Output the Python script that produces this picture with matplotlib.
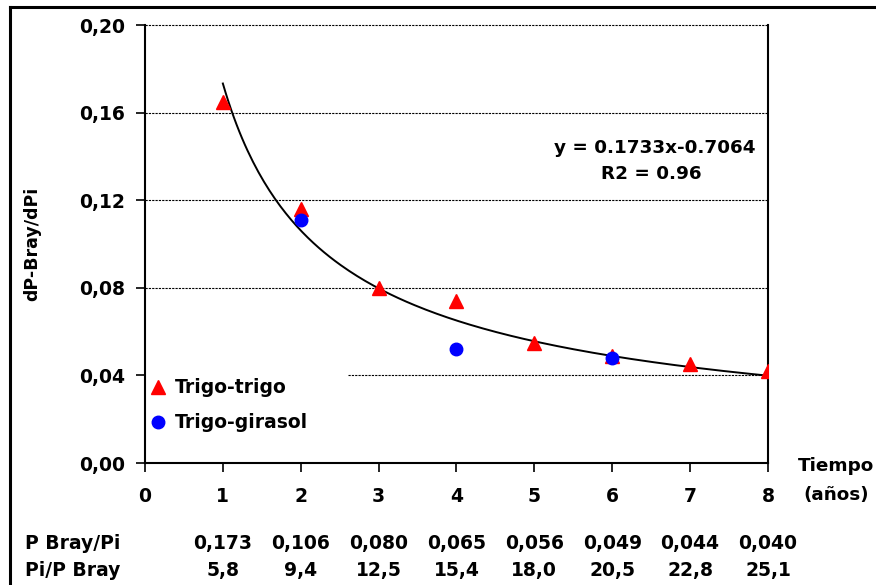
import numpy as np
import matplotlib.pyplot as plt
from matplotlib.transforms import blended_transform_factory

plt.rcParams['font.family'] = ['DejaVu Sans']
plt.rcParams['font.weight'] = 'bold'

# data
years = [1, 2, 3, 4, 5, 6, 7, 8]
trigo_trigo = [0.165, 0.116, 0.080, 0.074, 0.055, 0.049, 0.045, 0.042]
girasol_years = [2, 4, 6]
trigo_girasol = [0.111, 0.052, 0.048]

# power fit y = a * x^b
fit_a = 0.1733
fit_b = -0.7064

yticks = [0.0, 0.04, 0.08, 0.12, 0.16, 0.20]
ytick_labels = ["0,00", "0,04", "0,08", "0,12", "0,16", "0,20"]
xticks = [0, 1, 2, 3, 4, 5, 6, 7, 8]

row_names = ["P Bray/Pi", "Pi/P Bray"]
p_bray_pi = ["0,173", "0,106", "0,080", "0,065", "0,056", "0,049", "0,044", "0,040"]
pi_p_bray = ["5,8", "9,4", "12,5", "15,4", "18,0", "20,5", "22,8", "25,1"]

fig = plt.figure(figsize=(8.76, 5.85), dpi=100)
ax = fig.add_axes([0.1655, 0.2085, 0.7112, 0.7487])

# frame around the picture (top and left only, it's a crop)
fig.add_artist(plt.Line2D([0.0114, 0.0114], [0.0, 0.988], color='black', lw=2.2,
                          transform=fig.transFigure))
fig.add_artist(plt.Line2D([0.0114, 1.0], [0.988, 0.988], color='black', lw=2.2,
                          transform=fig.transFigure))

# gridlines
for yv in yticks[2:]:
    ax.axhline(yv, color='black', lw=0.8, ls=(0, (2, 1)), zorder=1, clip_on=False)
ax.axhline(0.04, xmin=0.326, color='black', lw=0.8, ls=(0, (2, 1)), zorder=1)

# trend curve
xf = np.linspace(1, 8, 200)
ax.plot(xf, fit_a * xf ** fit_b, color='black', lw=1.4, zorder=2)

ax.plot(years, trigo_trigo, ls='none', marker='^', ms=10, color='red',
        label='Trigo-trigo', zorder=3)
ax.plot(girasol_years, trigo_girasol, ls='none', marker='o', ms=9, color='blue',
        label='Trigo-girasol', zorder=4)

ax.set_xlim(0, 8)
ax.set_ylim(0, 0.20)
ax.set_yticks(yticks)
ax.set_yticklabels(ytick_labels)
ax.set_xticks(xticks)
ax.tick_params(axis='both', direction='out', length=6.5, width=1.2, labelsize=13.5)
ax.tick_params(axis='y', pad=8)
ax.tick_params(axis='x', pad=11)
for s in ['left', 'bottom', 'right']:
    ax.spines[s].set_linewidth(1.5)
ax.spines['top'].set_visible(False)

ax.set_ylabel('dP-Bray/dPi', fontsize=12.5, fontweight='bold', labelpad=27)

ax.text(0.818, 0.72, 'y = 0.1733x-0.7064', transform=ax.transAxes, ha='center',
        va='center', fontsize=13.2)
ax.text(0.813, 0.66, 'R2 = 0.96', transform=ax.transAxes, ha='center',
        va='center', fontsize=13.2)

leg = ax.legend(loc='lower left', bbox_to_anchor=(-0.015, 0.04), frameon=False,
                fontsize=13.5, handletextpad=0.4, labelspacing=0.85,
                handlelength=1.0, borderpad=0.2)
for t in leg.get_texts():
    t.set_fontweight('bold')

fig.text(0.954, 0.203, 'Tiempo', ha='center', va='center', fontsize=13.2)
fig.text(0.955, 0.153, '(años)', ha='center', va='center', fontsize=13.2)

# table under the axis
tr = blended_transform_factory(ax.transData, fig.transFigure)
fig.text(0.028, 0.071, row_names[0], ha='left', va='center', fontsize=13.5)
fig.text(0.028, 0.025, row_names[1], ha='left', va='center', fontsize=13.5)
for xv, a, b in zip(years, p_bray_pi, pi_p_bray):
    ax.text(xv, 0.071, a, transform=tr, ha='center', va='center', fontsize=13.5)
    ax.text(xv, 0.025, b, transform=tr, ha='center', va='center', fontsize=13.5)

fig.savefig('out.png', dpi=100)
